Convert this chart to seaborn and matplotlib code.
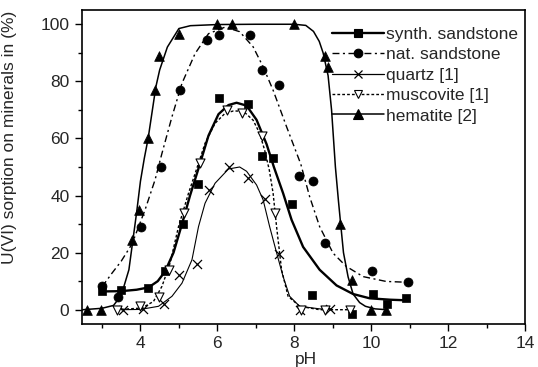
"""
U(VI) sorption on minerals vs pH
"""
import matplotlib
matplotlib.use("Agg")
import matplotlib.pyplot as plt
from matplotlib.lines import Line2D
from matplotlib.ticker import MultipleLocator
import seaborn as sns
import numpy as np
import pandas as pd

# measured points
synth_ph = [3.0, 3.5, 4.2, 4.65, 5.1, 5.5, 6.05, 6.8, 7.15, 7.45, 7.95, 8.45, 9.5, 10.05, 10.4, 10.9]
synth_sorp = [6.5, 7, 7.5, 13.5, 30, 44, 74, 72, 54, 53, 37, 5, -1.5, 5.5, 2, 4]

nat_ph = [3.0, 3.42, 4.02, 4.53, 5.03, 5.73, 6.03, 6.86, 7.16, 7.6, 8.12, 8.49, 8.8, 10.01, 10.97]
nat_sorp = [8.4, 4.5, 29, 50, 77, 94.4, 96.2, 96.4, 84, 78.7, 47, 45, 23.3, 13.6, 9.7]

quartz_ph = [3.55, 4.07, 4.6, 4.99, 5.47, 5.78, 6.3, 6.8, 7.24, 7.6, 8.15, 8.92]
quartz_sorp = [0, 0.2, 2, 12, 16, 42, 50, 46, 38.7, 19.5, 0, 0.2]

musc_ph = [3.4, 3.99, 4.49, 4.75, 5.13, 5.55, 6.24, 6.63, 7.15, 7.51, 8.17, 8.79, 9.44]
musc_sorp = [0, 1.2, 4.4, 14, 33.8, 51.5, 69.9, 68.8, 60.8, 33.8, 0, -0.2, -0.2]

hem_ph = [2.6, 2.97, 3.77, 3.97, 4.19, 4.38, 4.49, 4.99, 5.99, 6.39, 7.99, 8.79, 8.89, 9.2, 9.5, 10.0, 10.39]
hem_sorp = [0, 0, 24.5, 35, 60, 77, 89, 96.5, 100, 100, 100, 89, 85, 30, 10.5, 0, 0]

# fitted curves
synth_fit_ph = [3.0, 3.5, 3.9, 4.21, 4.45, 4.64, 4.86, 5.08, 5.29, 5.51, 5.77, 6.03, 6.29, 6.5,
                6.76, 7.02, 7.28, 7.47, 7.71, 7.93, 8.23, 8.66, 9.1, 9.53, 9.96, 10.5, 10.91]
synth_fit_sorp = [6.4, 6.5, 7.0, 7.8, 10, 13.4, 20, 30, 40, 49.5, 61, 68.5, 71.7, 72.5,
                  71.5, 66.5, 58, 50, 40.8, 31.5, 22, 14, 8.5, 5.5, 4, 3.5, 3.3]

nat_fit_ph = [3.0, 3.26, 3.5, 3.78, 4.12, 4.38, 4.56, 4.82, 5.08, 5.42, 5.77, 6.2, 6.58, 6.93,
              7.19, 7.45, 7.8, 8.17, 8.4, 8.66, 9.01, 9.35, 9.79, 10.39, 10.97]
nat_fit_sorp = [8, 12.8, 17, 23, 35, 45.5, 54.8, 67.6, 79.3, 89.7, 96.7, 99, 97.4, 92.1,
                85.1, 76.9, 64.1, 51, 39.6, 29.1, 19.8, 15.2, 11.6, 9.9, 9.6]

quartz_fit_ph = [3.5, 4.0, 4.47, 4.82, 5.08, 5.34, 5.51, 5.68, 5.94, 6.29, 6.58, 6.76, 7.02,
                 7.19, 7.36, 7.54, 7.71, 7.88, 8.14, 8.66, 8.95]
quartz_fit_sorp = [0, 0.1, 1.2, 4.7, 9.3, 17.5, 29.1, 37.3, 44.3, 49.3, 50, 48.5, 43.7,
                   38.5, 29.1, 20, 11.6, 4.7, 1.2, 0.3, 0.2]

musc_fit_ph = [3.38, 4.04, 4.34, 4.56, 4.77, 4.99, 5.25, 5.51, 5.68, 5.94, 6.2, 6.41, 6.67,
               6.93, 7.1, 7.23, 7.35, 7.45, 7.54, 7.67, 7.84, 8.14, 8.66, 9.45]
musc_fit_sorp = [0, 0.6, 2.9, 8.2, 16.3, 29.1, 40.8, 51.3, 58.3, 65.3, 68.8, 69.6, 69.6,
                 66.4, 61.8, 55.9, 49, 40.8, 29.1, 14, 4.7, 1.2, 0, 0]

hem_fit_ph = [2.5, 3.0, 3.3, 3.5, 3.7, 3.8, 3.9, 4.0, 4.1, 4.2, 4.3, 4.4, 4.5, 4.7, 5.0, 5.3,
              6.0, 7.0, 8.0, 8.3, 8.5, 8.65, 8.75, 8.88, 8.97, 9.07, 9.15, 9.2, 9.28, 9.4,
              9.53, 9.7, 9.85, 10.1, 10.4]
hem_fit_sorp = [0, 0.5, 1.5, 5, 14, 24, 34, 45, 53, 60, 69, 78, 84, 92, 98.5, 99.5,
                99.9, 100, 100, 99.6, 97.5, 94, 90, 82, 70, 50, 38, 31, 20, 11.5,
                5.5, 2.5, 1.2, 0.3, 0]

labels = ["synth. sandstone", "nat. sandstone", "quartz [1]", "muscovite [1]", "hematite [2]"]

sns.set_style("ticks")
plt.rcParams['font.family'] = ['Liberation Sans', 'DejaVu Sans']
plt.rcParams['font.size'] = 12.5

fig = plt.figure(figsize=(5.38, 3.67), dpi=100)
ax = fig.add_axes([0.1524, 0.1172, 0.8234, 0.8556])

# (points, fit, marker, filled, line style, line width, marker size)
series = [
    (synth_ph, synth_sorp, synth_fit_ph, synth_fit_sorp, 's', True, '-', 1.7, 6),
    (nat_ph, nat_sorp, nat_fit_ph, nat_fit_sorp, 'o', True, (0, (5, 2.5, 1.5, 2.5)), 1.0, 6.5),
    (quartz_ph, quartz_sorp, quartz_fit_ph, quartz_fit_sorp, 'x', False, '-', 0.8, 6.5),
    (musc_ph, musc_sorp, musc_fit_ph, musc_fit_sorp, 'v', False, (0, (2, 1.5)), 1.0, 6.5),
    (hem_ph, hem_sorp, hem_fit_ph, hem_fit_sorp, '^', True, '-', 1.1, 7),
]

handles = []
for (px, py, fx, fy, mk, filled, ls, lw, ms), lab in zip(series, labels):
    fit = pd.DataFrame({'pH': fx, 'sorption': fy})
    sns.lineplot(data=fit, x='pH', y='sorption', ax=ax, color='black',
                 linestyle=ls, linewidth=lw, sort=False, legend=False)
    pts = pd.DataFrame({'pH': px, 'sorption': py})
    if mk == 'x':
        sns.scatterplot(data=pts, x='pH', y='sorption', ax=ax, marker='x',
                        color='black', s=ms ** 2, linewidth=0.9, zorder=3, legend=False)
    elif filled:
        sns.scatterplot(data=pts, x='pH', y='sorption', ax=ax, marker=mk,
                        color='black', edgecolor='black', s=ms ** 2, linewidth=0.5,
                        zorder=3, legend=False)
    else:
        sns.scatterplot(data=pts, x='pH', y='sorption', ax=ax, marker=mk,
                        facecolor='white', edgecolor='black', s=ms ** 2, linewidth=0.8,
                        zorder=3, legend=False)
    handles.append(Line2D([], [], color='black', linestyle=ls, linewidth=max(lw, 0.9),
                          marker=mk, markersize=ms * 0.95,
                          markerfacecolor='black' if filled else 'white',
                          markeredgecolor='black', markeredgewidth=0.9 if mk == 'x' else 0.8))

ax.set_xlim(2.48, 14)
ax.set_ylim(-5, 105)
ax.xaxis.set_major_locator(MultipleLocator(2))
ax.xaxis.set_minor_locator(MultipleLocator(1))
ax.yaxis.set_major_locator(MultipleLocator(20))
ax.yaxis.set_minor_locator(MultipleLocator(10))
ax.tick_params(which='major', direction='out', length=5, width=1, pad=4,
               labelsize=12.5, color='black')
ax.tick_params(which='minor', direction='out', length=3, width=1, color='black')
ax.tick_params(top=False, right=False, which='both')
for sp in ax.spines.values():
    sp.set_visible(True)
    sp.set_linewidth(1.2)
    sp.set_color('black')

ax.set_xlabel('pH', fontsize=12.5)
ax.set_ylabel('U(VI) sorption on minerals in (%)', fontsize=12.5)
ax.xaxis.set_label_coords(0.506, -0.088)
ax.yaxis.set_label_coords(-0.147, 0.594)

ax.legend(handles, labels, loc='upper left', bbox_to_anchor=(0.564, 0.946),
          frameon=False, fontsize=12.5, handlelength=3.0, handletextpad=0.1,
          labelspacing=0.3, borderpad=0, borderaxespad=0)

fig.savefig('out.png', dpi=100)
